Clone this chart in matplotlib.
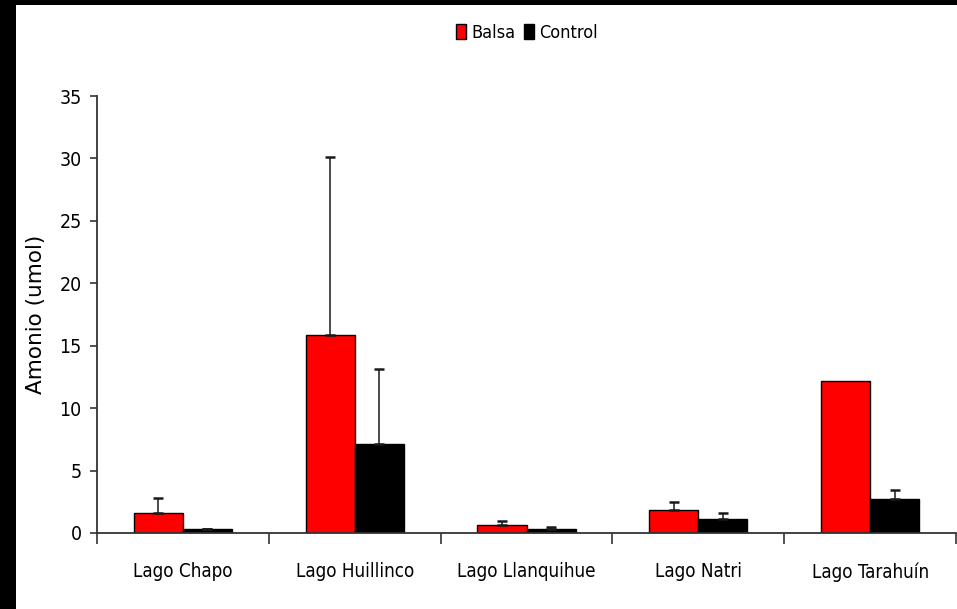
import os
import matplotlib
matplotlib.use("Agg")
import matplotlib.pyplot as plt
import matplotlib.font_manager as fm
from matplotlib.font_manager import FontProperties
import numpy as np
from matplotlib.patches import Rectangle

lakes = ["Lago Chapo", "Lago Huillinco", "Lago Llanquihue", "Lago Natri", "Lago Tarahuín"]
balsa = [1.58, 15.85, 0.61, 1.87, 12.2]
balsa_err = [1.25, 14.25, 0.35, 0.64, 0.0]
control = [0.32, 7.13, 0.32, 1.12, 2.70]
control_err = [0.04, 6.0, 0.16, 0.48, 0.77]
yticks = [0, 5, 10, 15, 20, 25, 30, 35]


def pick_narrow_font():
    """Return a path to a regular-weight narrow/condensed sans font, if any."""
    ranked = []
    for f in fm.fontManager.ttflist:
        base = os.path.basename(f.fname).lower()
        if f.style != "normal":
            continue
        if f.weight not in (400, "normal", "regular", "book"):
            continue
        if any(k in base for k in ("bold", "italic", "light", "thin", "medium", "black", "mono")):
            continue
        label = (f.name + " " + base).lower()
        if "liberation" in label and "narrow" in label:
            ranked.append((0, f.fname))
        elif "arial" in label and "narrow" in label:
            ranked.append((1, f.fname))
        elif "noto" in label and "sans" in label and "condensed" in label \
                and "extra" not in label and "semi" not in label and "cjk" not in label:
            ranked.append((2, f.fname))
        elif "sans" in label and "condensed" in label and "extra" not in label \
                and "semi" not in label and "cjk" not in label:
            ranked.append((3, f.fname))
        elif "narrow" in label:
            ranked.append((4, f.fname))
    if ranked:
        ranked.sort()
        return ranked[0][1]
    return None


narrow_path = pick_narrow_font()


def narrow_font(size):
    if narrow_path:
        return FontProperties(fname=narrow_path, size=size)
    return FontProperties(family="Liberation Sans", size=size - 1.5)


W, H = 957, 609
fig = plt.figure(figsize=(W / 100, H / 100), dpi=100)
fig.patch.set_facecolor("white")

# black frame strips along the top and left edges
fig.patches.append(Rectangle((0, 1 - 5 / H), 1, 5 / H, transform=fig.transFigure,
                             facecolor="black", edgecolor="none", zorder=10))
fig.patches.append(Rectangle((0, 0), 16 / W, 1, transform=fig.transFigure,
                             facecolor="black", edgecolor="none", zorder=10))

ax = fig.add_axes([97 / W, 1 - 533 / H, (956 - 97) / W, (533 - 96) / H])

x = np.arange(len(lakes))
bw = 0.2857
ax.bar(x - bw / 2, balsa, bw, color="#ff0000", edgecolor="black", linewidth=1.0,
       label="Balsa", zorder=2)
ax.bar(x + bw / 2, control, bw, color="black", edgecolor="black", linewidth=1.0,
       label="Control", zorder=2)

# one-sided (upper) error bars, only where an error is given
for offset, vals, errs in ((-bw / 2, balsa, balsa_err), (bw / 2, control, control_err)):
    vals = np.asarray(vals)
    errs = np.asarray(errs)
    m = errs > 0
    ax.errorbar(x[m] + offset, vals[m], yerr=[np.zeros(m.sum()), errs[m]], fmt="none",
                ecolor="#1a1a1a", elinewidth=1.1, capsize=3.3, capthick=1.8, zorder=3)

ax.set_xlim(-0.5, len(lakes) - 0.5)
ax.set_ylim(0, 35)
ax.set_yticks(yticks)
ax.set_yticklabels([str(v) for v in yticks], fontproperties=narrow_font(14))
ax.set_xticks(np.arange(len(lakes) + 1) - 0.5)
ax.set_xticklabels([])
ax.set_xticks(x, minor=True)
ax.set_xticklabels(lakes, minor=True, fontproperties=narrow_font(13.5))
ax.tick_params(axis="x", which="major", direction="out", length=8, width=1.2, color="#333333")
ax.tick_params(axis="x", which="minor", length=0, pad=21)
ax.tick_params(axis="y", direction="out", length=5, width=1.2, color="#333333", pad=6)

for s in ["top", "right"]:
    ax.spines[s].set_visible(False)
for s in ["left", "bottom"]:
    ax.spines[s].set_color("#333333")
    ax.spines[s].set_linewidth(1.3)

ax.set_ylabel("Amonio (umol)", fontfamily="DejaVu Sans", fontsize=15.5)
ax.yaxis.set_label_coords((46 - 97) / (956 - 97), 0.5)

leg = fig.legend(loc="center", bbox_to_anchor=(527 / W, 1 - 33 / H), ncol=2, frameon=False,
                 handlelength=0.55, handleheight=0.9, handletextpad=0.3, columnspacing=0.5,
                 prop=narrow_font(13))

fig.savefig("out.png", dpi=100)
